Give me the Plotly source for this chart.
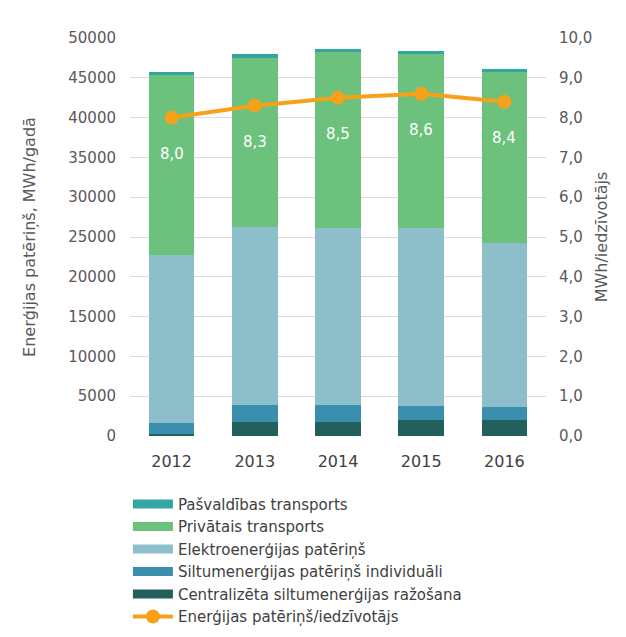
import plotly.graph_objects as go

years = [2012, 2013, 2014, 2015, 2016]
centralizeta = [300, 1700, 1700, 2000, 2000]
individuali = [1300, 2200, 2200, 1800, 1600]
elektro = [21100, 22300, 22200, 22300, 20700]
privatais = [22640, 21330, 22170, 21850, 21370]
pasvaldibas = [400, 400, 400, 400, 400]
per_capita = [8.0, 8.3, 8.5, 8.6, 8.4]
right_ticks = [0, 1, 2, 3, 4, 5, 6, 7, 8, 9, 10]

names = [
    "Centralizēta siltumenerģijas ražošana",
    "Siltumenerģijas patēriņš individuāli",
    "Elektroenerģijas patēriņš",
    "Privātais transports",
    "Pašvaldības transports",
]
series = [centralizeta, individuali, elektro, privatais, pasvaldibas]
colors = ["#22605e", "#3b8fae", "#8dbfcb", "#6cc17c", "#34a5a0"]
ranks = [5, 4, 3, 2, 1]

font_fam = "'DejaVu Sans', sans-serif"
gray = "#595959"

fig = go.Figure()
for n, s, c in zip(names, series, colors):
    fig.add_trace(go.Bar(x=years, y=s, name=n, marker=dict(color=c, line=dict(width=0)),
                         showlegend=False))

fig.add_trace(go.Scatter(
    x=years, y=per_capita, name="Enerģijas patēriņš/iedzīvotājs", yaxis="y2",
    mode="lines+markers", line=dict(color="#f7a11a", width=4),
    marker=dict(color="#f7a11a", size=14), legendrank=6,
))

# legend entries with wide swatches
for n, c, r in zip(names, colors, ranks):
    fig.add_trace(go.Scatter(x=[years[0]], y=[None], name=n, mode="lines",
                             line=dict(color=c, width=9), legendrank=r))

for yr, v in zip(years, per_capita):
    fig.add_annotation(x=yr, y=v, xref="x", yref="y2", text=f"{v:.1f}".replace(".", ","),
                       showarrow=False, yshift=-36,
                       font=dict(color="white", size=15, family=font_fam))

fig.update_layout(
    width=626, height=637,
    barmode="stack", bargap=0.45,
    paper_bgcolor="white", plot_bgcolor="white",
    margin=dict(l=122, r=88, t=30, b=204),
    font=dict(family=font_fam, color=gray, size=15),
    showlegend=True,
    legend=dict(orientation="v", x=-0.005, xanchor="left", y=-0.13, yanchor="top",
                traceorder="normal", font=dict(size=15, color="#404040"),
                itemwidth=40, tracegroupgap=0),
    xaxis=dict(type="linear", range=[years[0] - 0.5, years[-1] + 0.5], tickvals=years,
               ticktext=[str(y) for y in years],
               showgrid=False, showline=False, ticks="", zeroline=False,
               ticklabelstandoff=14,
               tickfont=dict(size=16, color="#404040")),
    yaxis=dict(range=[0, 50000], dtick=5000, tickformat="d", showgrid=True,
               gridcolor="#dcdcdc", gridwidth=1, zeroline=False, showline=False,
               ticks="", ticklabelstandoff=13,
               title=dict(text="Enerģijas patēriņš, MWh/gadā", font=dict(size=16, color=gray), standoff=28),
               tickfont=dict(size=15, color=gray)),
    yaxis2=dict(range=[0, 10], tickvals=right_ticks,
                ticktext=[f"{t:.1f}".replace(".", ",") for t in right_ticks],
                overlaying="y", side="right",
                showgrid=False, zeroline=False, showline=False, ticklabelstandoff=12,
                title=dict(text="MWh/iedzīvotājs", font=dict(size=16, color=gray), standoff=4),
                tickfont=dict(size=15, color=gray)),
)

fig.write_html("out.html")
